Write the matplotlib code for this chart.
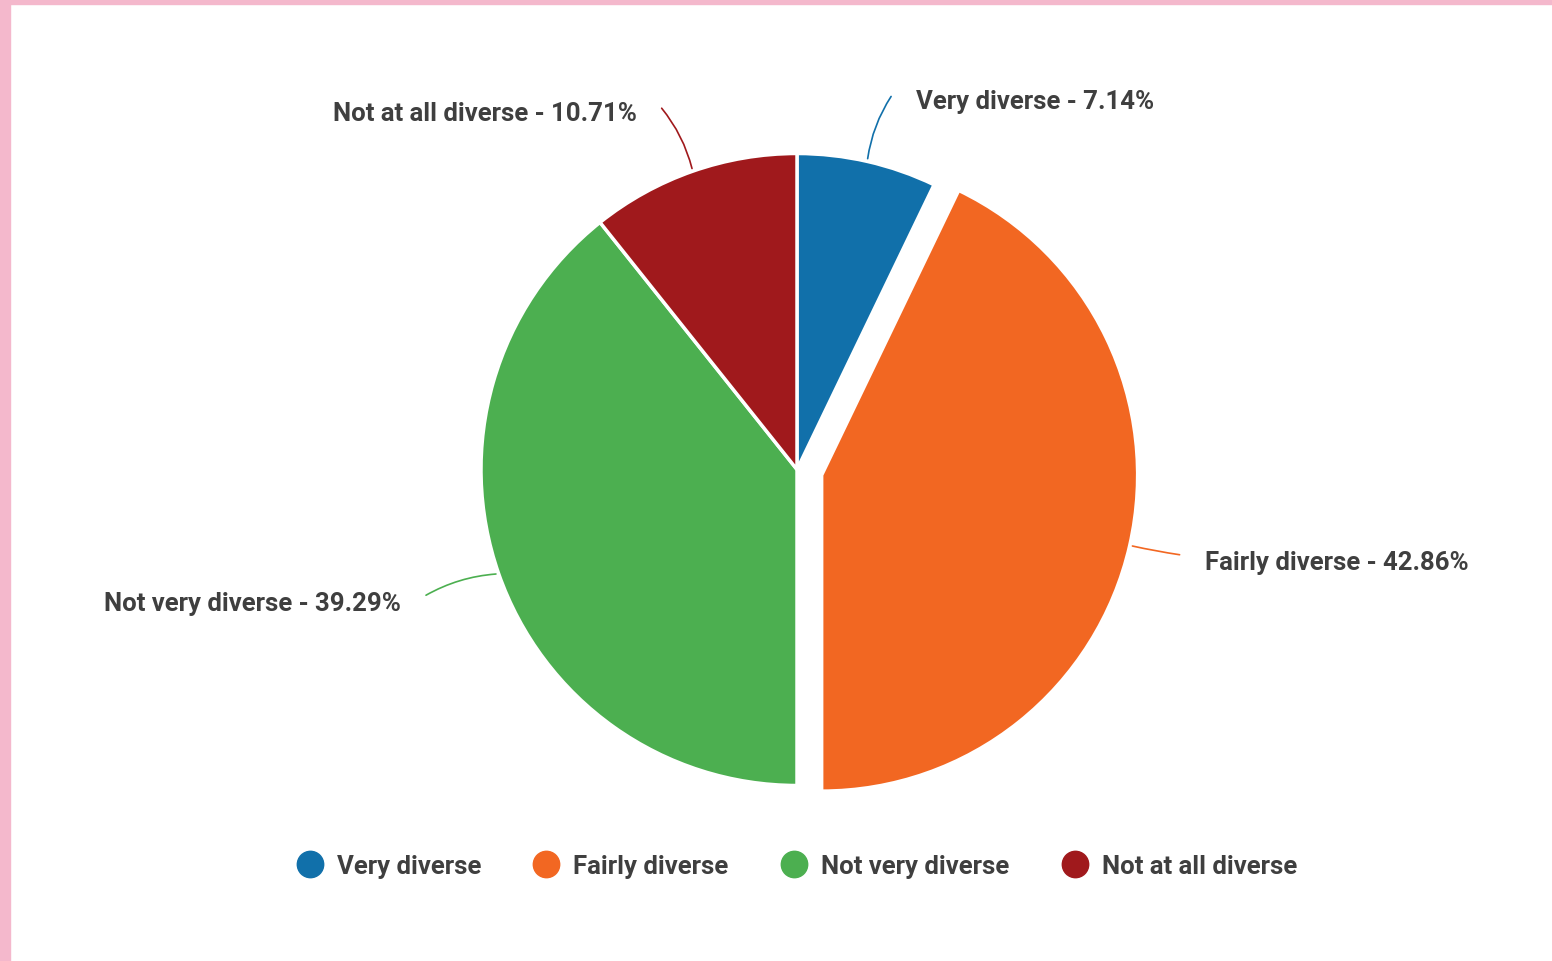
import numpy as np
import matplotlib.pyplot as plt
from matplotlib.lines import Line2D
from matplotlib.patches import Rectangle

labels = ["Very diverse", "Fairly diverse", "Not very diverse", "Not at all diverse"]
values = [7.14, 42.86, 39.29, 10.71]
colors = ["#1170aa", "#f26722", "#4caf50", "#a0191c"]
explode = [0, 0.08, 0, 0]

plt.rcParams['font.family'] = ['Roboto', 'DejaVu Sans']
txt_color = "#3f3f3f"

W, H = 1552, 962
fig = plt.figure(figsize=(W / 100, H / 100), dpi=100)
ax = fig.add_axes([0, 0, 1, 1])

# pink frame on the top and left
ax.add_patch(Rectangle((0, 0), 10, H, color="#f4b8cc", zorder=0))
ax.add_patch(Rectangle((0, H - 5), W, 5, color="#f4b8cc", zorder=0))

cx, cy, r = 797, H - 470.5, 316
wedges, _ = ax.pie(values, colors=colors, explode=[e * r for e in explode],
                   startangle=90, counterclock=False, radius=r, center=(cx, cy),
                   wedgeprops=dict(edgecolor="white", linewidth=2.5),
                   frame=True)
ax.set_xlim(0, W)
ax.set_ylim(0, H)
ax.set_aspect('equal')
ax.axis('off')

start = 0.0
for lab, val, col, ex in zip(labels, values, colors, explode):
    mid = np.deg2rad((start + val / 2) / 100 * 360)
    start += val
    dx, dy = np.sin(mid), np.cos(mid)
    side = 1 if dx > 0 else -1
    ox, oy = cx + ex * r * dx, cy + ex * r * dy
    p0 = (ox + r * dx, oy + r * dy)
    p1 = (cx + (r + 69) * dx + side * 10, cy + (r + 69) * dy)
    if ex > 0:
        rad = 0.02
    elif dy > 0:
        rad = -0.12 * side
    else:
        rad = 0.12
    ax.annotate("", xy=p1, xytext=p0,
                arrowprops=dict(arrowstyle="-", color=col, lw=1.2,
                                connectionstyle="arc3,rad=%.2f" % rad))
    ax.text(p1[0] + side * 23, p1[1] - 6.5, f"{lab} - {val:.2f}%",
            ha='left' if side > 0 else 'right', va='center',
            fontsize=18.5, fontweight='bold', color=txt_color)

handles = [Line2D([], [], marker='o', linestyle='none', markersize=19,
                  markerfacecolor=c, markeredgecolor=c) for c in colors]
leg = ax.legend(handles, labels, loc='center', bbox_to_anchor=(797 / W, 1 - 867 / H),
                ncol=4, frameon=False, handlelength=1.0, handletextpad=0.55,
                columnspacing=2.05, prop=dict(size=18.5, weight='bold'))
for t in leg.get_texts():
    t.set_color(txt_color)

fig.savefig("out.png", dpi=100, facecolor="white")
